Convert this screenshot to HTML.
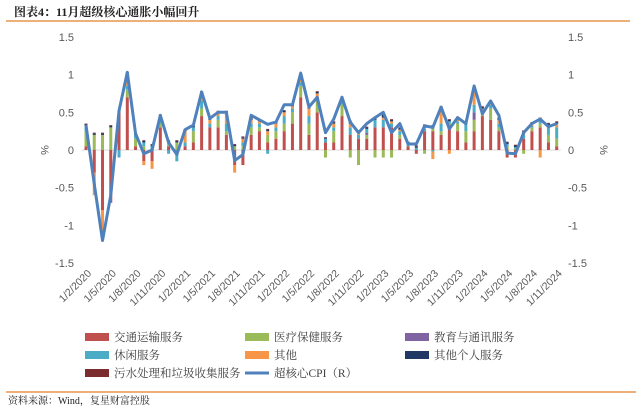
<!DOCTYPE html>
<html><head><meta charset="utf-8"><style>
body{margin:0;background:#fff;width:640px;height:413px;overflow:hidden;font-family:"Liberation Sans","Noto Sans CJK SC",sans-serif}
svg text{font-family:"Liberation Sans","Noto Sans CJK SC",sans-serif}
svg text.serif{font-family:"Liberation Serif","Noto Serif CJK SC",serif}
</style></head><body>
<svg id="chart" width="640" height="413">
<text x="14" y="16" font-size="12" font-weight="bold" fill="#222" class="serif">图表4：11月超级核心通胀小幅回升</text>
<line x1="6" y1="21" x2="630" y2="21" stroke="#E8954F" stroke-width="1.5"/>
<line x1="6" y1="392" x2="636" y2="392" stroke="#E8954F" stroke-width="1.5"/>
<text x="8" y="404" font-size="10" fill="#222" class="serif">资料来源：Wind，复星财富控股</text>
<g id="axes"></g><g id="bars"></g><g id="line"></g><g id="legend"></g>
</svg>
<script>
const labels=["1/2/2020","1/5/2020","1/8/2020","1/11/2020","1/2/2021","1/5/2021","1/8/2021","1/11/2021","1/2/2022","1/5/2022","1/8/2022","1/11/2022","1/2/2023","1/5/2023","1/8/2023","1/11/2023","1/2/2024","1/5/2024","1/8/2024","1/11/2024"];
const ticks=[1.5,1,0.5,0,-0.5,-1,-1.5];
const core=[.33,-.45,-1.2,-.6,.52,1.03,.22,-.05,0,.46,.1,-.06,.27,.33,.77,.42,.5,.5,-.14,-.06,.46,.4,.34,.37,.6,.6,1.02,.57,.7,.23,.41,.7,.37,.23,.35,.43,.5,.23,.35,.08,.08,.32,.3,.57,.28,.43,.35,.85,.48,.65,.46,-.04,-.05,.23,.35,.41,.31,.35];
const transport=[.05,-.3,-.8,-.7,.5,.7,.05,-.15,-.15,.3,.05,0,.05,.1,.45,.3,.3,.2,-.2,-.2,.2,.25,.1,.15,.25,.35,.7,.2,.5,.1,.1,.45,.2,.15,.15,.3,.3,.3,.15,.05,-.05,.25,.25,.2,.3,.25,.1,.25,.45,.4,.25,-.1,-.1,.15,.25,.3,.1,.05];
const medical=[.2,.2,.2,.3,0,.1,.1,.05,0,.05,.05,.1,0,.15,.1,0,.1,.05,.05,.05,.1,.05,.1,.1,.1,.15,.15,.15,.15,-.1,.15,.15,-.1,-.2,.05,-.1,-.1,-.1,.05,0,0,-.05,.05,.05,.05,.1,.15,.15,.05,.15,.05,.05,.02,-.05,.05,.05,.1,.1];
const education=[0,0,0,0,0,0,0,0,0,0,0,0,0,0,0,0,0,0,0,0,0,0,0,0,0,0,0,0,0,0,0,0,0,0,.03,0,0,0,0,0,0,0,0,0,0,0,0,.1,0,0,0,0,0,0,0,0,0,0];
const leisure=[.05,0,0,0,-.1,.05,.05,.05,.05,.1,-.05,-.15,.05,.05,.1,.05,.05,.1,0,.05,.05,.05,-.05,.05,.1,.05,.05,.1,.05,.05,.05,.05,.1,.05,.05,.1,.1,.05,.05,.03,.03,.03,-.02,.1,.03,.03,.1,.1,.03,.05,.05,.03,.02,.05,.02,.05,.1,.15];
const other=[.02,-.3,-.4,0,0,.15,0,-.05,-.1,0,0,0,.15,0,.1,.05,.05,.15,-.1,.05,.05,.03,.05,.05,.05,.03,.05,.1,.05,0,.05,.03,.05,.03,0,0,.03,.03,.02,0,0,.03,-.1,.2,-.05,.03,0,.2,.02,.03,.05,0,0,.03,.02,-.1,.03,.05];
const personal=[.02,.02,.02,.02,.02,.02,.01,.02,.02,.01,.02,.02,.02,.02,.02,.02,.01,.01,.02,.02,.02,.02,.02,.02,.02,.02,.02,.02,.02,.01,.02,.02,.03,.02,.02,.02,.04,.02,.02,.02,.02,.02,.02,.02,.02,.02,.02,.02,.02,.02,.02,.02,.02,.02,.02,.02,.02,.02];
const sewage=[.01,.01,.01,.01,.01,.01,.01,.01,.01,.01,.01,.01,.01,.01,.01,.01,.01,.01,.01,.01,.01,.01,.01,.01,.01,.01,.01,.01,.01,.01,.01,.01,.01,.01,.01,.01,.01,.01,.01,.01,.01,.01,.01,.01,.01,.01,.01,.01,.01,.01,.01,.01,.01,.01,.01,.01,.01,.01];
const series=[["交通运输服务",transport,"#C0504D"],["医疗保健服务",medical,"#9BBB59"],["教育与通讯服务",education,"#8064A2"],["休闲服务",leisure,"#4BACC6"],["其他",other,"#F79646"],["其他个人服务",personal,"#1F3864"],["污水处理和垃圾收集服务",sewage,"#7B2C2C"]];
const NS="http://www.w3.org/2000/svg";
const x0=86,dx=(556.7-86)/57,yZero=150,yPer=75.4;
const X=i=>x0+i*dx, Y=v=>yZero-v*yPer;
function mk(tag,attrs,parent,txt){const e=document.createElementNS(NS,tag);for(const k in attrs)e.setAttribute(k,attrs[k]);if(txt!=null)e.textContent=txt;parent.appendChild(e);return e;}
const axes=document.getElementById('axes');
mk('line',{x1:X(0)-4,x2:X(57)+4,y1:yZero,y2:yZero,stroke:'#d9d9d9','stroke-width':1},axes);
ticks.forEach(t=>{
 const a=mk('text',{x:74,y:Y(t)+4,'font-size':11,fill:'#595959','text-anchor':'end'},axes,String(t));
 
 const b=mk('text',{x:568,y:Y(t)+4,'font-size':11,fill:'#595959'},axes,String(t));
 
});
let p=mk('text',{x:41,y:150,'font-size':11,fill:'#595959','text-anchor':'middle',transform:'rotate(90 41 150)'},axes,'%');

p=mk('text',{x:600,y:150,'font-size':11,fill:'#595959','text-anchor':'middle',transform:'rotate(90 600 150)'},axes,'%');

labels.forEach((l,k)=>{
 const xx=X(k*3)+6,yy=274;
 const t=mk('text',{x:xx,y:yy,'font-size':10.5,fill:'#595959','text-anchor':'end',transform:`rotate(-45 ${xx} ${yy})`},axes,l);
 
});
const bars=document.getElementById('bars');
for(let i=0;i<core.length;i++){
 let pos=0,neg=0;
 series.forEach(s=>{
  const v=s[1][i];if(!v)return;
  let y1,y2;
  if(v>0){y1=pos;y2=pos+v;pos=y2;}else{y1=neg;y2=neg+v;neg=y2;}
  const r=mk('rect',{x:X(i)-1.5,width:3,y:Math.min(Y(y1),Y(y2)),height:Math.abs(Y(y1)-Y(y2)),fill:s[2]},bars);
  
  
 });
}
const ln=mk('polyline',{points:core.map((v,i)=>X(i)+','+Y(v)).join(' '),fill:'none',stroke:'#4F81BD','stroke-width':3,'stroke-linejoin':'round'},document.getElementById('line'));


const leg=document.getElementById('legend');
const pos=[[85,337],[245,337],[405,337],[85,355],[245,355],[405,355],[85,373]];
series.forEach((s,k)=>{
 const g=mk('g',{},leg);
 
 
 mk('rect',{x:pos[k][0],y:pos[k][1]-4,width:24,height:8,fill:s[2]},g);
 mk('text',{x:pos[k][0]+29,y:pos[k][1]+4,'font-size':11.5,fill:'#404040',class:'serif'},g,s[0]);
});
const g=mk('g',{},leg);


mk('line',{x1:245,x2:269,y1:373,y2:373,stroke:'#4F81BD','stroke-width':3},g);
mk('text',{x:274,y:377,'font-size':11.5,fill:'#404040',class:'serif'},g,'超核心CPI（R）');
</script>
</body></html>
